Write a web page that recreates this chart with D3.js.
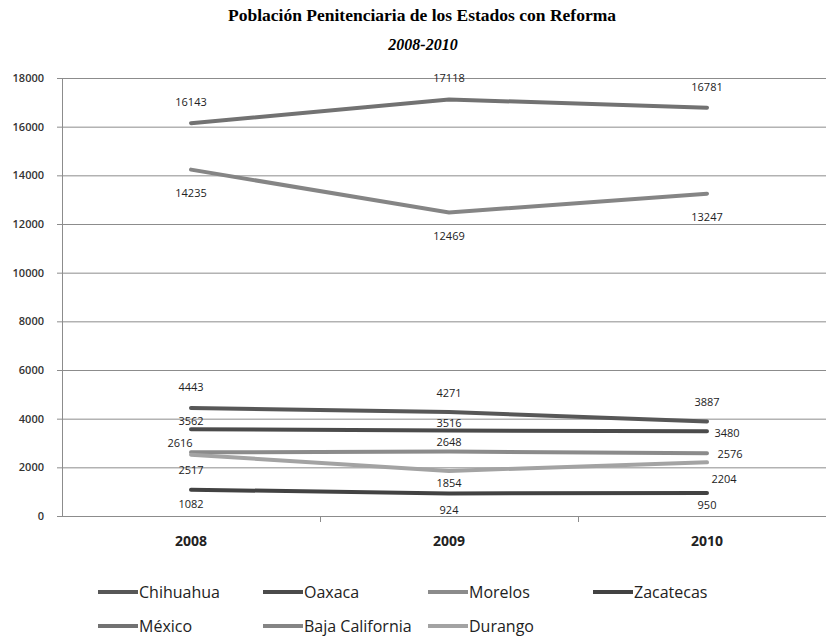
<!DOCTYPE html>
<html>
<head>
<meta charset="utf-8">
<script src="https://cdn.jsdelivr.net/npm/d3@7"></script>
<style>
  body { margin: 0; background: #fff; }
  svg { display: block; }
  .grid line { stroke: #8c8c8c; stroke-width: 1; }
  .grid path { display: none; }
  .axis path, .axis line { stroke: #8c8c8c; }
  .axis--y text { font-family: "Open Sans", sans-serif; font-size: 11px; font-weight: 600; fill: #333; }
  .axis--x text { font-family: "Open Sans", sans-serif; font-size: 14px; font-weight: 700; fill: #222; }
  .label { font-family: "Open Sans", sans-serif; font-size: 11px; fill: #222; }
  .legend text { font-family: "Open Sans", sans-serif; font-size: 16px; fill: #222; }
</style>
</head>
<body>
<svg id="chart" width="826" height="638"></svg>
<script>
const years = ["2008", "2009", "2010"];
const yTicks = [0, 2000, 4000, 6000, 8000, 10000, 12000, 14000, 16000, 18000];

const seriesNames = ["Chihuahua", "Oaxaca", "Morelos", "Zacatecas", "México", "Baja California", "Durango"];
const chihuahua = [4443, 4271, 3887];
const oaxaca = [3562, 3516, 3480];
const morelos = [2616, 2648, 2576];
const zacatecas = [1082, 924, 950];
const mexico = [16143, 17118, 16781];
const bajaCalifornia = [14235, 12469, 13247];
const durango = [2517, 1854, 2204];
const seriesValues = [chihuahua, oaxaca, morelos, zacatecas, mexico, bajaCalifornia, durango];

// styling: colours and label offsets (dx, dy from the point)
const colors = ["#575757", "#4b4b4b", "#8b8b8b", "#424242", "#727272", "#858585", "#a3a3a3"];
const labelOffsets = [
  [[0, -21], [0, -20], [0, -20]],
  [[0, -9], [0, -8], [20, 1]],
  [[-11, -10], [0, -10], [23, 0]],
  [[0, 14], [0, 16], [0, 12]],
  [[0, -22], [0, -22], [0, -21]],
  [[0, 23], [0, 23], [0, 23]],
  [[0, 15], [0, 12], [17, 16]]
];

const svg = d3.select("#chart");

const x = d3.scaleBand().domain(years).range([62, 836]);
const y = d3.scaleLinear().domain([0, 18000]).range([516, 78]);
const cx = (d) => x(d) + x.bandwidth() / 2;

// title
svg.append("text")
  .attr("x", 422).attr("y", 21)
  .attr("text-anchor", "middle")
  .style("font-family", "'Liberation Serif', 'Times New Roman', serif")
  .style("font-size", "17px").style("font-weight", "bold")
  .attr("textLength", 388).attr("lengthAdjust", "spacingAndGlyphs")
  .text("Población Penitenciaria de los Estados con Reforma");
svg.append("text")
  .attr("x", 423).attr("y", 50)
  .attr("text-anchor", "middle")
  .style("font-family", "'Liberation Serif', 'Times New Roman', serif")
  .style("font-size", "16px").style("font-weight", "bold").style("font-style", "italic")
  .text("2008-2010");

// gridlines
svg.append("g")
  .attr("class", "grid")
  .attr("transform", "translate(62,0)")
  .call(d3.axisRight(y).tickValues(yTicks).tickSize(780).tickFormat(""));

// y axis
const yAxis = svg.append("g")
  .attr("class", "axis axis--y")
  .attr("transform", "translate(62,0)")
  .call(d3.axisLeft(y).tickValues(yTicks).tickFormat(d3.format("d"))
    .tickSize(5).tickSizeOuter(0).tickPadding(13));
yAxis.select(".domain").attr("d", "M0.5,78V516");

// x axis
const xAxis = svg.append("g")
  .attr("class", "axis axis--x")
  .attr("transform", "translate(0,516)")
  .call(d3.axisBottom(x).tickSize(0).tickPadding(20));
xAxis.select(".domain").remove();
xAxis.selectAll(".cat-tick")
  .data(years.slice(1))
  .enter().append("line")
  .attr("x1", (d) => Math.round(x(d)) + 0.5).attr("x2", (d) => Math.round(x(d)) + 0.5)
  .attr("y1", 0).attr("y2", 6)
  .attr("stroke", "#8c8c8c");

// lines
const line = d3.line().x((d, i) => cx(years[i])).y((d) => y(d));

svg.append("g").selectAll("path")
  .data(seriesValues)
  .enter().append("path")
  .attr("d", line)
  .attr("fill", "none")
  .attr("stroke", (d, i) => colors[i])
  .attr("stroke-width", 4)
  .attr("stroke-linecap", "round");

// data labels
seriesValues.forEach((vals, s) => {
  svg.append("g").selectAll("text")
    .data(vals)
    .enter().append("text")
    .attr("class", "label")
    .attr("x", (d, i) => cx(years[i]) + labelOffsets[s][i][0])
    .attr("y", (d, i) => y(d) + labelOffsets[s][i][1])
    .attr("text-anchor", "middle")
    .attr("dominant-baseline", "central")
    .text((d) => d);
});

// legend
const legendCols = [98, 263, 428, 593];
const legend = svg.append("g").attr("class", "legend");
seriesNames.forEach((name, i) => {
  const lx = legendCols[i % 4];
  const ly = i < 4 ? 592 : 626;
  legend.append("line")
    .attr("x1", lx).attr("x2", lx + 40)
    .attr("y1", ly).attr("y2", ly)
    .attr("stroke", colors[i]).attr("stroke-width", 4);
  legend.append("text")
    .attr("x", lx + 41).attr("y", ly)
    .attr("dominant-baseline", "central")
    .text(name);
});
</script>
</body>
</html>
